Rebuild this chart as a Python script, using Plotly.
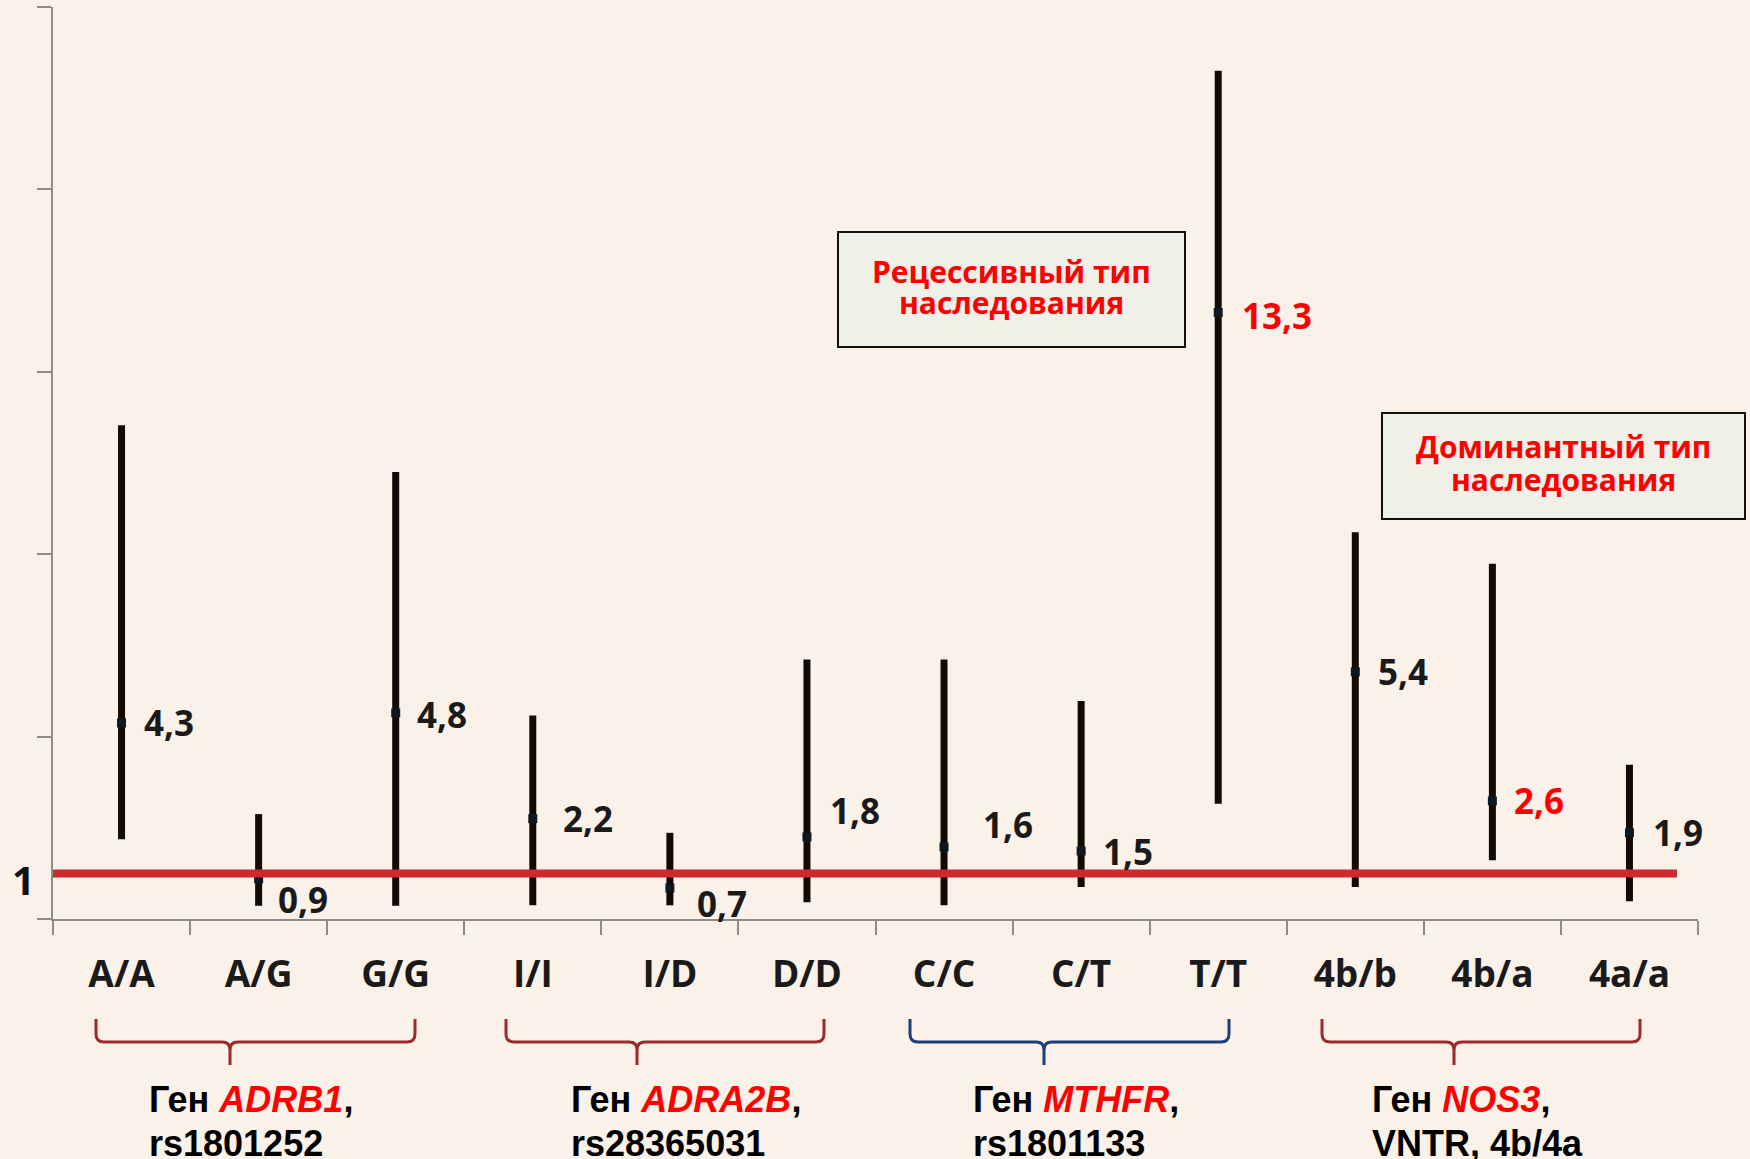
import plotly.graph_objects as go

# ---------------- data ----------------
genotypes = ['A/A', 'A/G', 'G/G', 'I/I', 'I/D', 'D/D', 'C/C', 'C/T', 'T/T', '4b/b', '4b/a', '4a/a']
or_values = [4.3, 0.88, 4.52, 2.2, 0.68, 1.8, 1.58, 1.49, 13.3, 5.42, 2.59, 1.89]
ci_upper = [10.83, 2.3, 9.8, 4.46, 1.89, 5.69, 5.69, 4.78, 18.6, 8.48, 7.79, 3.38]
ci_lower = [1.75, 0.29, 0.29, 0.3, 0.3, 0.37, 0.3, 0.7, 2.53, 0.7, 1.29, 0.39]
value_labels = ['4,3', '0,9', '4,8', '2,2', '0,7', '1,8', '1,6', '1,5', '13,3', '5,4', '2,6', '1,9']
highlighted = ['13,3', '2,6']
reference_value = 1
gene_names = ['ADRB1', 'ADRA2B', 'MTHFR', 'NOS3']
gene_snps = ['rs1801252', 'rs28365031', 'rs1801133', 'VNTR, 4b/4a']
box_line1 = ['Рецессивный тип', 'Доминантный тип']
box_line2 = ['наследования', 'наследования']

# ---------------- geometry / style ----------------
W, H = 1750, 1159
PX0, PX1, PY0, PY1 = 53, 1698, 919, 7
def px(x):
    return (x - PX0) / (PX1 - PX0)
def py(y):
    return (PY0 - y) / (PY0 - PY1)

BG = '#FAF1E8'
AX = '#8C8C8C'
DARK = '#1A1A1A'
RED = '#FF0000'
FONT = 'Open Sans, Noto Sans, DejaVu Sans'
NARROW = 'Liberation Sans Narrow, Arial Narrow, Liberation Sans, Arial'

label_dx = [20, 17, 19, 28, 25, 21, 37, 20, 22, 21, 20, 22]
label_dy = [0, -21, -2, 0, -16, 26, 22, 0, -3, 0, 0, 0]

fig = go.Figure()
fig.add_trace(go.Scatter(
    x=genotypes, y=or_values, mode='markers',
    marker=dict(symbol='square', size=9, color='#0F1820'),
    error_y=dict(type='data', symmetric=False,
                 array=[u - v for u, v in zip(ci_upper, or_values)],
                 arrayminus=[v - l for v, l in zip(or_values, ci_lower)],
                 thickness=7, width=0, color='#140A05'),
    showlegend=False, hoverinfo='skip', cliponaxis=False,
))

annotations = []
for g, v, t, dx, dy in zip(genotypes, or_values, value_labels, label_dx, label_dy):
    annotations.append(dict(
        x=g, y=v, xref='x', yref='y', text='<b>%s</b>' % t, showarrow=False,
        xanchor='left', yanchor='middle', xshift=dx, yshift=dy,
        font=dict(family=FONT, size=35, color=RED if t in highlighted else DARK)))

# "1" label
annotations.append(dict(x=px(23), y=reference_value, xref='paper', yref='y', text='<b>1</b>',
                        showarrow=False, xanchor='center', yanchor='middle', yshift=-6,
                        font=dict(family=FONT, size=40, color='#111111')))

shapes = []
# reference line
shapes.append(dict(type='line', xref='paper', yref='y', x0=0, x1=px(1677),
                   y0=reference_value, y1=reference_value,
                   line=dict(color='#D1282E', width=8), layer='above'))

# text boxes
boxes = [(838, 232, 1185, 347, 271, 302), (1382, 413, 1745, 519, 447, 479)]
for (x0, y0, x1, y1, t1y, t2y), l1, l2 in zip(boxes, box_line1, box_line2):
    shapes.append(dict(type='rect', xref='paper', yref='paper',
                       x0=px(x0), x1=px(x1), y0=py(y1), y1=py(y0),
                       fillcolor='#F0EFE8', line=dict(color='#111111', width=2)))
    for txt, ty in ((l1, t1y), (l2, t2y)):
        annotations.append(dict(x=px((x0 + x1) / 2), y=py(ty), xref='paper', yref='paper',
                                text='<b>%s</b>' % txt, showarrow=False, xanchor='center',
                                yanchor='middle', font=dict(family=FONT, size=30, color=RED)))

# braces + gene labels
braces = [(96, 415, 230, '#9E2A2E'), (506, 824, 637, '#9E2A2E'),
          (910, 1229, 1044, '#1B3F7A'), (1322, 1640, 1454, '#9E2A2E')]
label_left = [147, 569, 971, 1370]
yT, yM, yTip, r = 1019, 1042, 1065, 8
for (x0, x1, xt, col), name, snp, lx in zip(braces, gene_names, gene_snps, label_left):
    pts = lambda x, y: '%.5f,%.5f' % (px(x), py(y))
    path = ('M ' + pts(x0, yT) + ' L ' + pts(x0, yM - r) + ' Q ' + pts(x0, yM) + ' ' + pts(x0 + r, yM) +
            ' L ' + pts(xt - r, yM) + ' Q ' + pts(xt, yM) + ' ' + pts(xt, yM + r) +
            ' L ' + pts(xt, yTip) + ' M ' + pts(xt, yM + r) + ' Q ' + pts(xt, yM) + ' ' + pts(xt + r, yM) +
            ' L ' + pts(x1 - r, yM) + ' Q ' + pts(x1, yM) + ' ' + pts(x1, yM - r) + ' L ' + pts(x1, yT))
    shapes.append(dict(type='path', xref='paper', yref='paper', path=path,
                       line=dict(color=col, width=3)))
    annotations.append(dict(x=px(lx), y=py(1099), xref='paper', yref='paper', showarrow=False,
                            xanchor='left', yanchor='middle',
                            text="<b>Ген <i><span style='color:%s'>%s</span></i>,</b>" % (RED, name),
                            font=dict(family=NARROW, size=36, color='#000000')))
    annotations.append(dict(x=px(lx), y=py(1143), xref='paper', yref='paper', showarrow=False,
                            xanchor='left', yanchor='middle', text='<b>%s</b>' % snp,
                            font=dict(family=NARROW, size=36, color='#000000')))

fig.update_layout(
    width=W, height=H, paper_bgcolor=BG, plot_bgcolor=BG,
    margin=dict(l=PX0, r=W - PX1, t=PY1, b=H - PY0, pad=0),
    xaxis=dict(type='category', range=[-0.5, 11.5], tickson='boundaries', ticks='outside',
               ticklen=14, tickwidth=2, tickcolor=AX, showline=True, linecolor=AX, linewidth=2,
               showgrid=False, zeroline=False, ticklabelstandoff=22,
               tickfont=dict(family=FONT, size=37, color=DARK)),
    yaxis=dict(range=[0, 20], tickvals=[0, 4, 8, 12, 16, 20], ticks='outside', ticklen=14,
               tickwidth=2, tickcolor=AX, showline=True, linecolor=AX, linewidth=2,
               showticklabels=False, showgrid=False, zeroline=False),
    annotations=annotations, shapes=shapes,
)
fig.update_xaxes(tickvals=genotypes, ticktext=['<b>%s</b>' % g for g in genotypes])

fig.write_html('out.html', config={'displayModeBar': False},
               post_script="document.body.style.margin='0';document.body.style.padding='0';"
                           "document.body.style.overflow='hidden';"
                           "document.documentElement.style.background='%s';" % BG)
